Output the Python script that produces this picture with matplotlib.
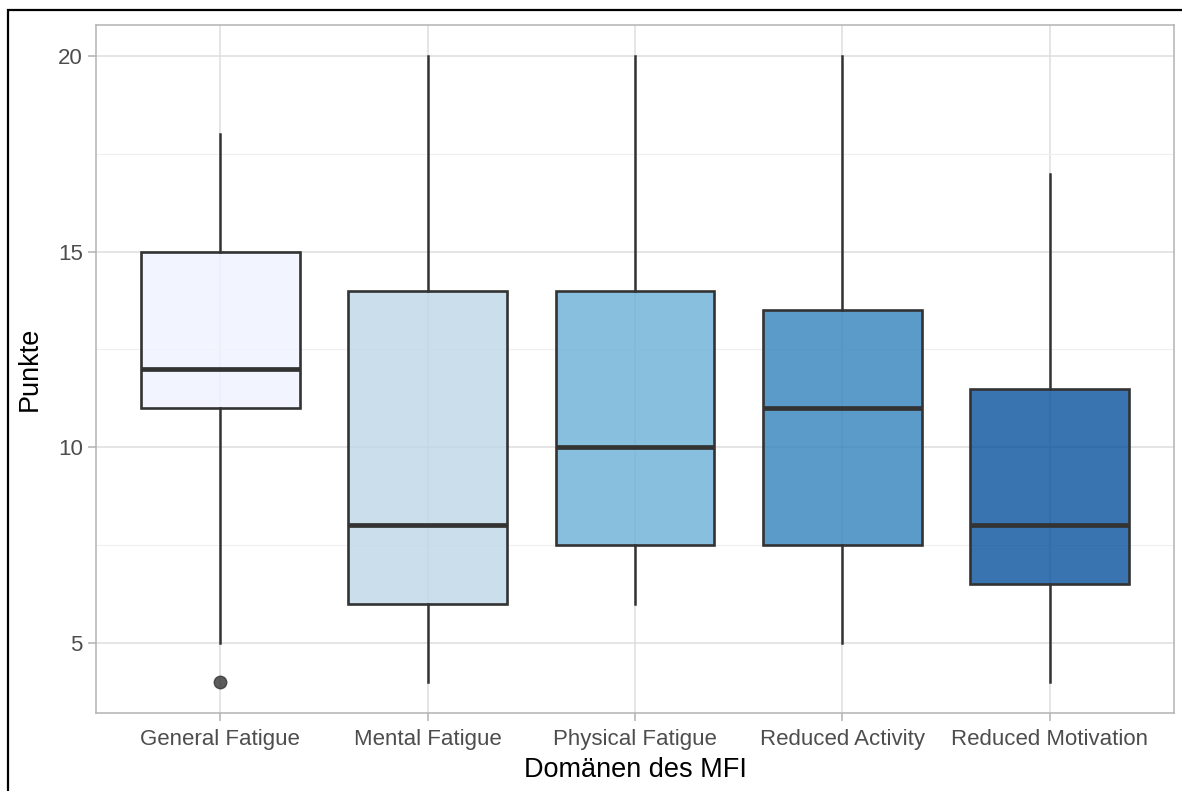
import matplotlib
matplotlib.use("Agg")
import matplotlib.pyplot as plt
from matplotlib.patches import Rectangle
from matplotlib.ticker import MultipleLocator

plt.rcParams["font.family"] = ["Liberation Sans", "DejaVu Sans"]

categories = ["General Fatigue", "Mental Fatigue", "Physical Fatigue", "Reduced Activity", "Reduced Motivation"]
whisker_low = [5, 4, 6, 5, 4]
q1 = [11, 6, 7.5, 7.5, 6.5]
median = [12, 8, 10, 11, 8]
q3 = [15, 14, 14, 13.5, 11.5]
whisker_high = [18, 20, 20, 20, 17]
outliers = [[4], [], [], [], []]
colors = ["#EFF3FF", "#BDD7E7", "#6BAED6", "#3182BD", "#08519C"]

W, H = 1182, 791
fig = plt.figure(figsize=(W / 100, H / 100), dpi=100)
ax = fig.add_axes([96 / W, 1 - 713 / H, (1174 - 96) / W, (713 - 25) / H])

stats = []
for i, c in enumerate(categories):
    stats.append(dict(label=c, whislo=whisker_low[i], q1=q1[i], med=median[i],
                      q3=q3[i], whishi=whisker_high[i], fliers=outliers[i]))

positions = list(range(1, len(categories) + 1))
bp = ax.bxp(stats, positions=positions, widths=0.765, patch_artist=True,
            showcaps=False,
            boxprops=dict(edgecolor="#333333", linewidth=1.9),
            whiskerprops=dict(color="#333333", linewidth=1.8),
            medianprops=dict(color="#333333", linewidth=3.4, solid_capstyle="butt"),
            flierprops=dict(marker="o", markerfacecolor="#333333", markeredgecolor="#333333",
                            markersize=9, alpha=0.8))
for patch, col in zip(bp["boxes"], colors):
    r, g, b = matplotlib.colors.to_rgb(col)
    patch.set_facecolor((r, g, b, 0.8))
    patch.set_zorder(3)
for k in ("whiskers", "medians", "fliers"):
    for a in bp[k]:
        a.set_zorder(4)

ax.set_xlim(0.4, len(categories) + 0.6)
ax.set_ylim(3.2, 20.8)
ax.set_xticks(positions)
ax.set_xticklabels(categories)
ax.yaxis.set_major_locator(MultipleLocator(5))
ax.yaxis.set_minor_locator(MultipleLocator(2.5))

ax.grid(which="major", color="#DEDEDE", linewidth=1.1, zorder=0)
ax.grid(which="minor", axis="y", color="#EFEFEF", linewidth=0.8, zorder=0)
ax.set_axisbelow(True)
for s in ax.spines.values():
    s.set_color("#B3B3B3")
    s.set_linewidth(1.1)
ax.tick_params(which="major", color="#B3B3B3", length=5.5, width=1.1,
               labelcolor="#4D4D4D", labelsize=16, pad=4)
ax.tick_params(axis="x", which="major", pad=6)
ax.tick_params(which="minor", length=0)

ax.set_xlabel("Domänen des MFI", fontsize=19.5, color="black", labelpad=5)
ax.set_ylabel("Punkte", fontsize=19.5, color="black", labelpad=11)

fig.patches.append(Rectangle((8 / W, -0.05), 1.1, 1.05 - 10 / H, transform=fig.transFigure,
                             fill=False, edgecolor="black", linewidth=1.6, zorder=10))

fig.savefig("out.png", dpi=100)
